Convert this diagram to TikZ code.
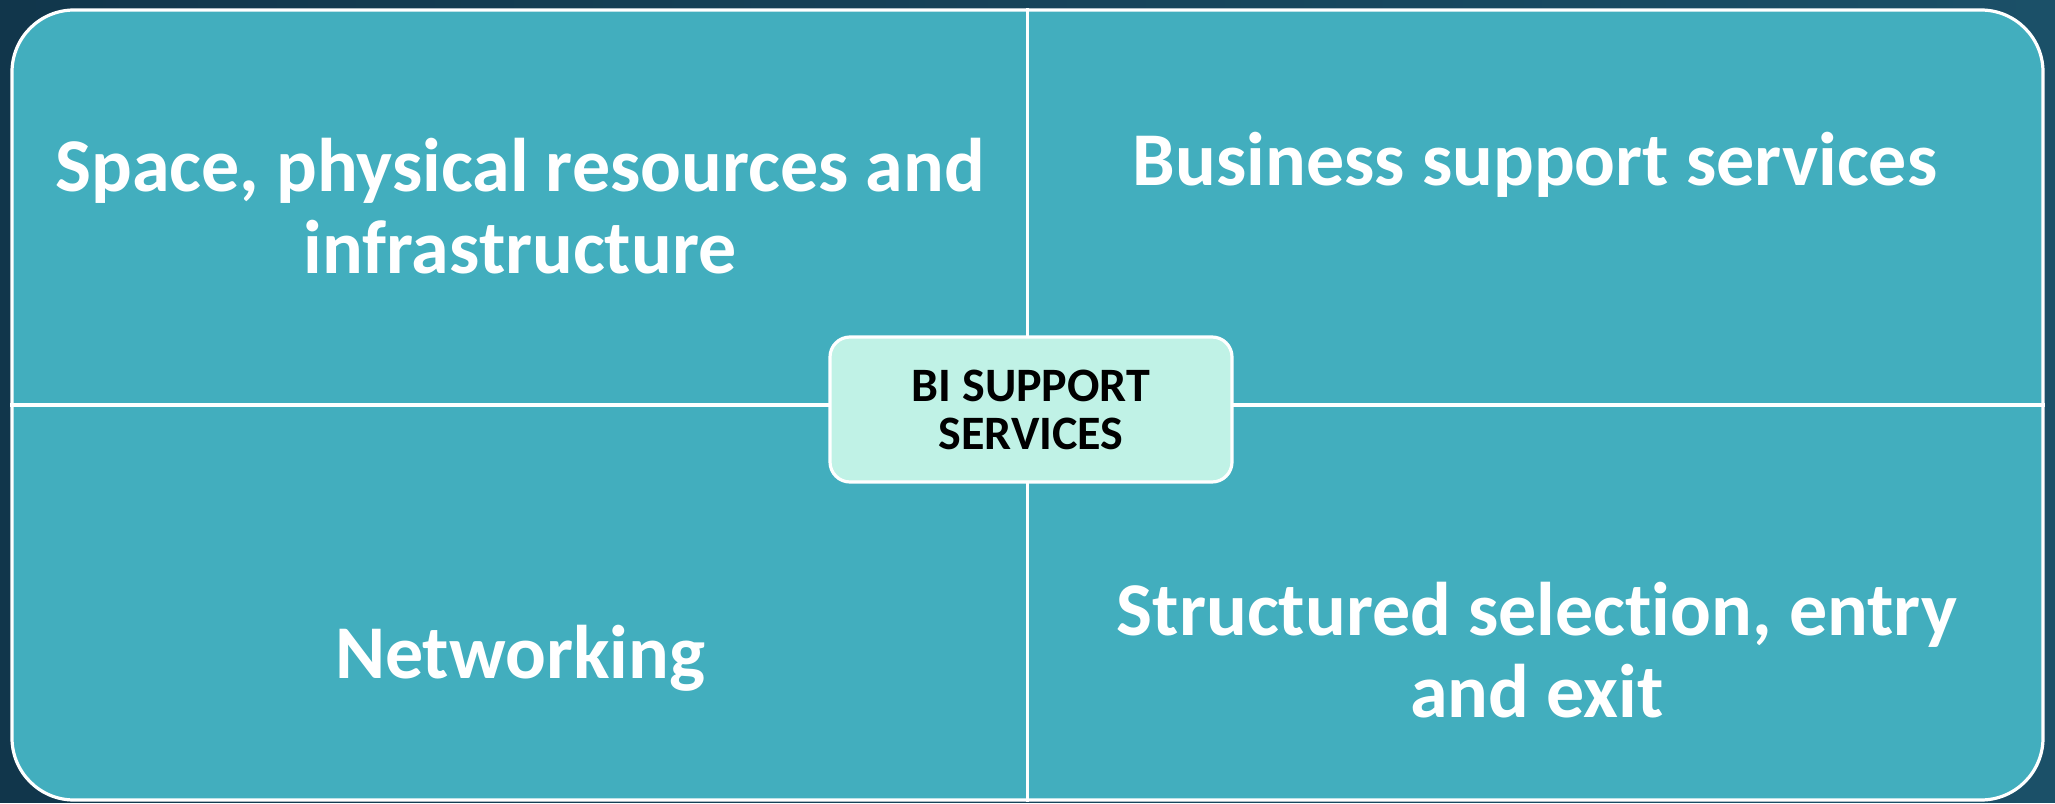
\documentclass[tikz,border=0pt]{standalone}
\usepackage{fontspec}
\setmainfont{Carlito}[Ligatures=NoCommon]
\usetikzlibrary{positioning,backgrounds}

\definecolor{bgleft}{RGB}{17,54,75}
\definecolor{bgright}{RGB}{27,80,104}
\definecolor{teal}{RGB}{66,174,190}
\definecolor{mint}{RGB}{192,242,230}

\begin{document}
\begin{tikzpicture}[
    x=0.5pt, y=-0.5pt,
    frame/.style={draw=white, line width=1.6pt, fill=teal, rounded corners=31pt, inner sep=0pt, minimum width=1015.5pt, minimum height=395pt},
    divider/.style={draw=white, line width=1.6pt},
    hub/.style={draw=white, line width=1.6pt, fill=mint, rounded corners=10pt, minimum width=201pt, minimum height=72.5pt, align=center, font=\fontsize{24}{24}\selectfont\bfseries, text=black},
    quad/.style={text=white, align=center, anchor=base, font=\fontsize{38}{41}\selectfont\bfseries}
]

% Background
\shade[left color=bgleft, right color=bgright] (0,0) rectangle (2055,802);

% Matrix frame and dividers
\node[frame] (box) at (1027.5,405) {};
\draw[divider] (box.north) -- (box.south);
\draw[divider] (box.west) -- (box.east);

% Quadrant texts (base = last line)
\node[quad] (space) at (520,273) {Space, physical resources and\\infrastructure};
\node[quad] (business) at (1535,185) {Business support services};
\node[quad] (network) at (520,678) {Networking};
\node[quad] (select) at (1537,717) {Structured selection, entry\\and exit};

% Centre
\node[hub] (bi) at (1031,409.5) {BI SUPPORT\\SERVICES};

\end{tikzpicture}
\end{document}
